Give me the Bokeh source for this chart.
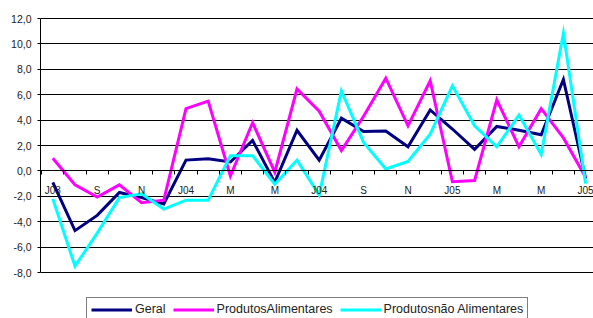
from bokeh.plotting import figure
from bokeh.models import Range1d, LinearAxis, FixedTicker, Legend, LegendItem, Grid, ColumnDataSource
from bokeh.embed import file_html
from bokeh.resources import INLINE

# ---- data ----
months = ["Jul03", "Ago03", "Set03", "Out03", "Nov03", "Dez03",
          "Jan04", "Fev04", "Mar04", "Abr04", "Mai04", "Jun04",
          "Jul04", "Ago04", "Set04", "Out04", "Nov04", "Dez04",
          "Jan05", "Fev05", "Mar05", "Abr05", "Mai05", "Jun05", "Jul05"]
tick_labels = ["J03", "S", "N", "J04", "M", "M", "J04", "S", "N", "J05", "M", "M", "J05"]

geral = [-0.9, -4.7, -3.5, -1.7, -2.1, -2.6, 0.85, 0.95, 0.7, 2.4, -0.9, 3.2,
         0.85, 4.15, 3.1, 3.15, 1.9, 4.8, 3.3, 1.7, 3.5, 3.2, 2.85, 7.2, -0.6]
alimentares = [1.0, -1.1, -2.05, -1.1, -2.5, -2.3, 4.9, 5.5, -0.4, 3.8, -0.1, 6.45,
               4.7, 1.6, 4.3, 7.3, 3.55, 7.1, -0.85, -0.75, 5.6, 1.9, 4.9, 2.6, -0.5]
nao_alimentares = [-2.2, -7.5, -4.9, -2.1, -1.8, -3.0, -2.3, -2.3, 1.2, 1.2, -1.05, 0.85,
                   -1.9, 6.3, 2.25, 0.15, 0.75, 2.9, 6.7, 3.55, 1.9, 4.4, 1.3, 10.85, -1.0]

y_ticks = [-8, -6, -4, -2, 0, 2, 4, 6, 8, 10, 12]
series_names = ["Geral", "ProdutosAlimentares", "Produtosnão Alimentares"]
colors = ["#000080", "#FF00FF", "#00FFFF"]

FONT = "Liberation Sans"

x = list(range(len(months)))
src = ColumnDataSource(dict(x=x, geral=geral, alim=alimentares, nalim=nao_alimentares))

p = figure(width=593, height=318, output_backend="svg", toolbar_location=None,
           x_axis_type=None, y_axis_type=None,
           x_range=Range1d(-0.554, 24.356), y_range=Range1d(-11.62, 12.08),
           min_border_left=40, min_border_right=0, min_border_top=17, min_border_bottom=0)
p.outline_line_color = None
p.background_fill_color = "white"
p.border_fill_color = "white"

# y axis
yax = LinearAxis(ticker=FixedTicker(ticks=y_ticks), bounds=(min(y_ticks), max(y_ticks)),
                 major_label_overrides={t: f"{t:.1f}".replace(".", ",") for t in y_ticks})
yax.axis_line_color = "black"
yax.major_tick_line_color = "black"
yax.major_tick_out = 3
yax.major_tick_in = 0
yax.minor_tick_line_color = None
yax.major_label_standoff = 6
yax.major_label_text_font = FONT
yax.major_label_text_font_size = "10.5px"
yax.major_label_text_color = "#222222"
p.add_layout(yax, "left")

p.add_layout(Grid(dimension=1, ticker=yax.ticker, grid_line_color="black", grid_line_width=1))

# x axis at y=0: labels every two months, tick marks at category boundaries
label_pos = list(range(0, len(months), 2))
xl = LinearAxis(ticker=FixedTicker(ticks=label_pos, minor_ticks=[i - 0.5 for i in x]),
                fixed_location=0,
                major_label_overrides={pos: lab for pos, lab in zip(label_pos, tick_labels)})
xl.axis_line_color = "black"
xl.major_tick_line_color = None
xl.major_tick_out = 0
xl.major_tick_in = 0
xl.minor_tick_line_color = "black"
xl.minor_tick_out = 4
xl.minor_tick_in = 0
xl.major_label_standoff = 10
xl.major_label_text_font = FONT
xl.major_label_text_font_size = "10px"
xl.major_label_text_color = "#222222"
p.add_layout(xl, "below")

r1 = p.line("x", "geral", source=src, line_color=colors[0], line_width=3, line_join="miter")
r2 = p.line("x", "alim", source=src, line_color=colors[1], line_width=3, line_join="miter")
r3 = p.line("x", "nalim", source=src, line_color=colors[2], line_width=3, line_join="miter")

legend = Legend(items=[LegendItem(label=series_names[0], renderers=[r1]),
                       LegendItem(label=series_names[1], renderers=[r2]),
                       LegendItem(label=series_names[2], renderers=[r3])],
                orientation="horizontal", location=(46, -3),
                border_line_color="black", border_line_width=1,
                background_fill_color="white", background_fill_alpha=1,
                padding=4, spacing=7, margin=0,
                glyph_width=41, glyph_height=13, label_height=13, label_standoff=3,
                label_text_font=FONT, label_text_font_size="12.5px", label_text_color="#222222")
p.add_layout(legend, "center")

open("out.html", "w").write(file_html(p, INLINE))
